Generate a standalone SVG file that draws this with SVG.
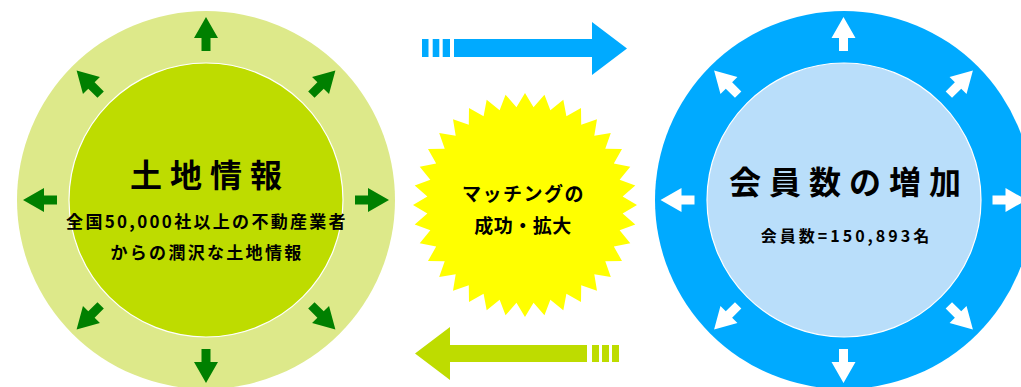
<svg xmlns="http://www.w3.org/2000/svg" xmlns:xlink="http://www.w3.org/1999/xlink" width="1021" height="387" viewBox="0 0 1021 387">
<style>
text{font-family:"Noto Sans CJK JP","Noto Sans",sans-serif;font-weight:bold;fill:#000;text-anchor:middle}
.t1{font-size:32px;letter-spacing:8px}
.t2{font-size:17px;letter-spacing:2.3px}
.t3{font-size:16px;letter-spacing:3px}
.t4{font-size:19px;letter-spacing:1.5px}
.t5{font-size:19px;letter-spacing:0.5px}
.inner{stroke:#fff;stroke-width:1.2}
.ga{fill:#008000}
.wa{fill:#fff}
</style>
<defs>
<path id="arr" d="M0,-183 L12,-162 L4.5,-162 L4.5,-149 L-4.5,-149 L-4.5,-162 L-12,-162 Z"/>
</defs>
<rect width="1021" height="387" fill="#fff"/>
<g id="land-info">
<circle cx="206" cy="200" r="189" fill="#dde98a"/>
<circle class="inner" cx="206" cy="200" r="137" fill="#bedc00"/>
<g class="ga" transform="translate(206,200)">
<use xlink:href="#arr"/>
<use xlink:href="#arr" transform="rotate(45)"/>
<use xlink:href="#arr" transform="rotate(90)"/>
<use xlink:href="#arr" transform="rotate(135)"/>
<use xlink:href="#arr" transform="rotate(180)"/>
<use xlink:href="#arr" transform="rotate(225)"/>
<use xlink:href="#arr" transform="rotate(270)"/>
<use xlink:href="#arr" transform="rotate(315)"/>
</g>
<text class="t1" x="210" y="187">土地情報</text>
<text class="t2" x="207" y="228">全国50,000社以上の不動産業者</text>
<text class="t2" x="207" y="259">からの潤沢な土地情報</text>
</g>
<g id="matching">
<polygon fill="#ffff00" transform="translate(525,205)" points="0,-112 8.54,-97.63 19.45,-110.3 25.36,-94.66 38.31,-105.25 41.42,-88.82 56,-97 56.21,-80.28 71.99,-85.8 69.3,-69.3 85.8,-71.99 80.28,-56.21 97,-56 88.82,-41.42 105.25,-38.31 94.66,-25.36 110.3,-19.45 97.63,-8.54 112,0 97.63,8.54 110.3,19.45 94.66,25.36 105.25,38.31 88.82,41.42 97,56 80.28,56.21 85.8,71.99 69.3,69.3 71.99,85.8 56.21,80.28 56,97 41.42,88.82 38.31,105.25 25.36,94.66 19.45,110.3 8.54,97.63 0,112 -8.54,97.63 -19.45,110.3 -25.36,94.66 -38.31,105.25 -41.42,88.82 -56,97 -56.21,80.28 -71.99,85.8 -69.3,69.3 -85.8,71.99 -80.28,56.21 -97,56 -88.82,41.42 -105.25,38.31 -94.66,25.36 -110.3,19.45 -97.63,8.54 -112,0 -97.63,-8.54 -110.3,-19.45 -94.66,-25.36 -105.25,-38.31 -88.82,-41.42 -97,-56 -80.28,-56.21 -85.8,-71.99 -69.3,-69.3 -71.99,-85.8 -56.21,-80.28 -56,-97 -41.42,-88.82 -38.31,-105.25 -25.36,-94.66 -19.45,-110.3 -8.54,-97.63"/>
<text class="t4" x="523.5" y="201">マッチングの</text>
<text class="t5" x="523" y="233">成功・拡大</text>
</g>
<g id="members">
<circle cx="844" cy="200" r="189" fill="#00aaff"/>
<circle class="inner" cx="844" cy="200" r="137" fill="#b9defa"/>
<g class="wa" transform="translate(843.5,200)">
<use xlink:href="#arr"/>
<use xlink:href="#arr" transform="rotate(45)"/>
<use xlink:href="#arr" transform="rotate(90)"/>
<use xlink:href="#arr" transform="rotate(135)"/>
<use xlink:href="#arr" transform="rotate(180)"/>
<use xlink:href="#arr" transform="rotate(225)"/>
<use xlink:href="#arr" transform="rotate(270)"/>
<use xlink:href="#arr" transform="rotate(315)"/>
</g>
<text class="t1" x="849" y="194">会員数の増加</text>
<text class="t3" x="846.5" y="242">会員数=150,893名</text>
</g>
<g id="connectors">
<g fill="#00aaff">
<rect x="422" y="39" width="6.5" height="18"/>
<rect x="432.7" y="39" width="6.6" height="18"/>
<rect x="442.7" y="39" width="7.3" height="18"/>
<polygon points="454,39 592,39 592,22 627,48.5 592,75 592,57 454,57"/>
</g>
<g fill="#bedc00">
<polygon points="415,353.5 450,327 450,345 587,345 587,362 450,362 450,380"/>
<rect x="592" y="345" width="7" height="17"/>
<rect x="602" y="345" width="7" height="17"/>
<rect x="612" y="345" width="7" height="17"/>
</g>
</g>
</svg>
